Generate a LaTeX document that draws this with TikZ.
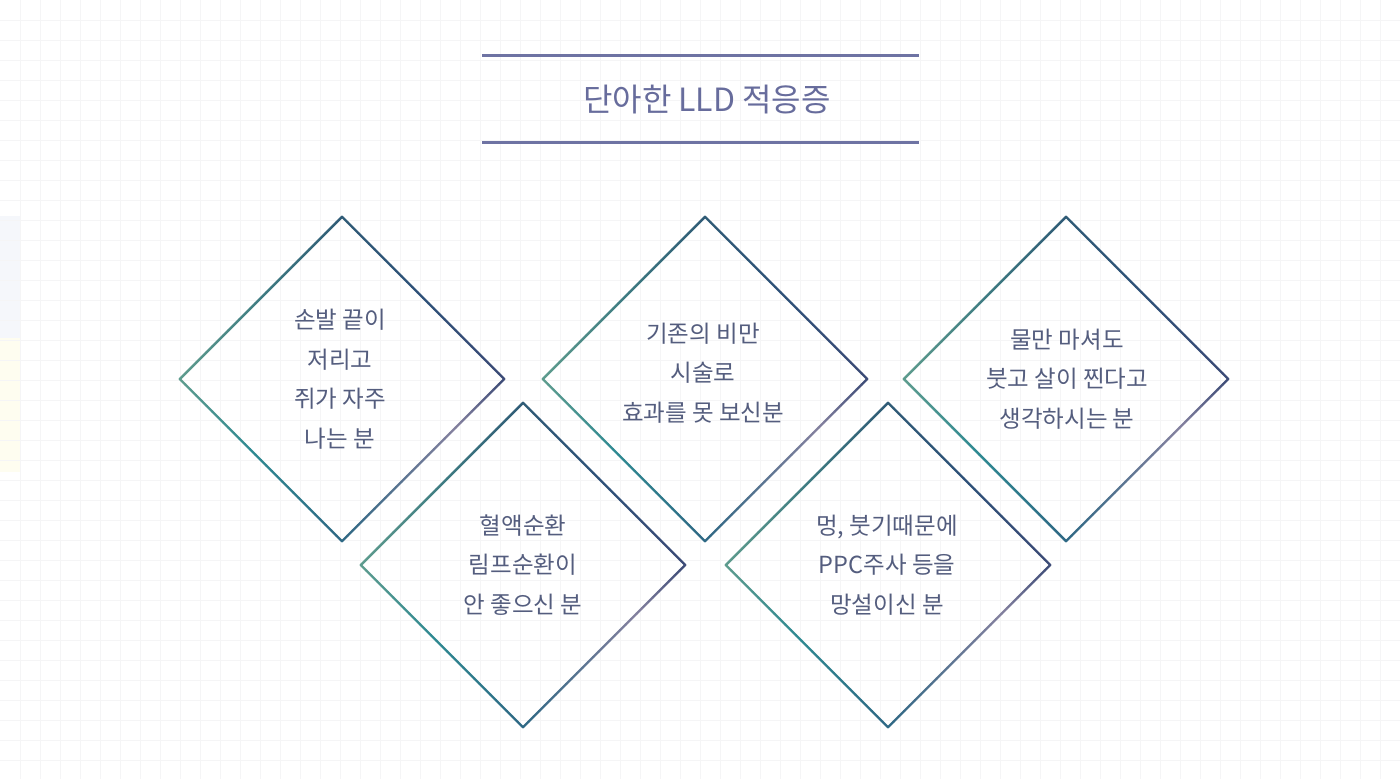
\documentclass[tikz,border=0pt]{standalone}
\usepackage{fontspec}
\setmainfont{Noto Sans CJK KR}
\usetikzlibrary{shapes.geometric,calc}
\definecolor{gridc}{HTML}{F5F5F6}
\definecolor{titlec}{HTML}{676C9C}
\definecolor{rulec}{HTML}{6E73A3}
\definecolor{textc}{HTML}{545D7E}
\definecolor{cG}{HTML}{5E9C8E}
\definecolor{cGT}{HTML}{3F7C82}
\definecolor{cT}{HTML}{2F5B76}
\definecolor{cTN}{HTML}{2E5078}
\definecolor{cN}{HTML}{3B4A76}
\definecolor{cL}{HTML}{85819F}
\definecolor{cB}{HTML}{2E6884}
\definecolor{cSW}{HTML}{2F8A92}
\definecolor{stripb}{HTML}{F5F7FB}
\definecolor{stripy}{HTML}{FEFDF0}
\tikzset{
  dia/.style={shape=diamond, aspect=1, minimum width=324pt, minimum height=324pt, inner sep=0pt, draw=none},
  edgeseg/.style={line width=2.4pt, line cap=round},
  dtext/.style={text=textc, align=center, font=\fontsize{23.5pt}{39.5pt}\selectfont},
}
\newcommand\gedge[6]{%
 \foreach \i in {1,...,30}{%
  \pgfmathsetmacro\ta{(\i-1)/30}%
  \pgfmathsetmacro\tb{\i/30}%
  \pgfmathsetmacro\tm{(\i-0.5)/30}%
  \ifdim\tm pt<#6pt
    \pgfmathtruncatemacro\p{100*\tm/#6}\colorlet{segc}{#4!\p!#3}%
  \else
    \pgfmathtruncatemacro\p{100*(\tm-#6)/(1-#6)}\colorlet{segc}{#5!\p!#4}%
  \fi
  \draw[edgeseg,segc] ($(#1)!\ta!(#2)$) -- ($(#1)!\tb!(#2)$);
 }}
\begin{document}
\begin{tikzpicture}[x=1pt,y=-1pt]
\useasboundingbox (0,0) rectangle (1400,779);
\fill[white] (0,0) rectangle (1400,779);
\fill[stripb] (0,216) rectangle (21,338);
\fill[stripy] (0,338) rectangle (21,472);
\foreach \x in {20,40,...,1380} \draw[gridc, line width=0.7pt] (\x,0) -- (\x,779);
\foreach \y in {20,40,...,760} \draw[gridc, line width=0.7pt] (0,\y) -- (1400,\y);
% title
\coordinate (r1a) at (482,55); \coordinate (r1b) at (919,55);
\coordinate (r2a) at (482,142); \coordinate (r2b) at (919,142);
\draw[rulec, line width=3pt] (r1a) -- (r1b);
\draw[rulec, line width=3pt] (r2a) -- (r2b);
\node[text=titlec, font=\fontsize{32pt}{36pt}\selectfont] (title) at (707,100) {단아한 LLD 적응증};
% diamonds
\node[dia] (d1) at (342,379) {};
\node[dia] (d2) at (523,565) {};
\node[dia] (d3) at (705,379) {};
\node[dia] (d4) at (888,565) {};
\node[dia] (d5) at (1066,379) {};
\foreach \d in {d1,d2,d3,d4,d5}{
  \gedge{\d.west}{\d.north}{cG}{cGT}{cT}{0.5}
  \gedge{\d.north}{\d.east}{cT}{cTN}{cN}{0.5}
  \gedge{\d.east}{\d.south}{cN}{cL}{cB}{0.3}
  \gedge{\d.west}{\d.south}{cG}{cSW}{cB}{0.45}
}
\node[dtext] (t1) at (340,379) {손발 끝이\\저리고\\쥐가 자주\\나는 분};
\node[dtext] (t2) at (523,565) {혈액순환\\림프순환이\\안 좋으신 분};
\node[dtext] (t3) at (703,373) {기존의 비만\\시술로\\효과를 못 보신분};
\node[dtext] (t4) at (887,565) {멍, 붓기때문에\\PPC주사 등을\\망설이신 분};
\node[dtext] (t5) at (1067,379) {물만 마셔도\\붓고 살이 찐다고\\생각하시는 분};
\end{tikzpicture}
\end{document}
